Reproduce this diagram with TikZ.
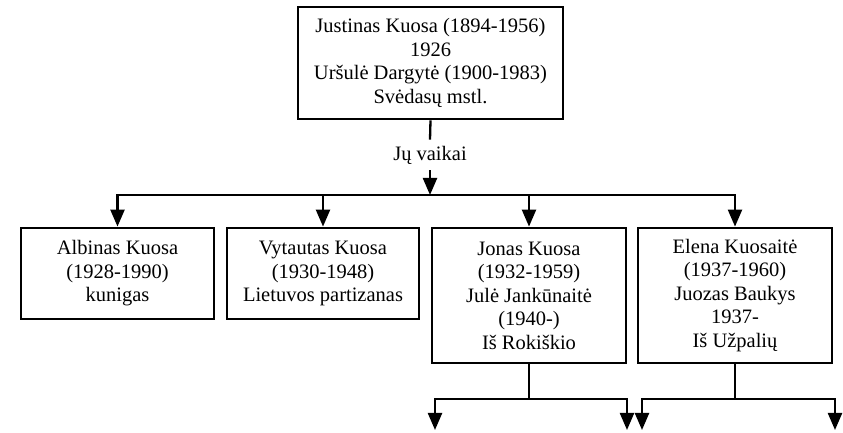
\documentclass[tikz,border=0pt]{standalone}
\usepackage{fontspec}
\setmainfont{Liberation Serif}
\usetikzlibrary{arrows.meta}

\begin{document}
\begin{tikzpicture}[x=1pt,y=1pt,
  person/.style={draw,line width=2.8pt,align=center,inner sep=2pt,
    font=\fontsize{20.5}{23.5}\selectfont},
  conn/.style={line width=2.3pt},
  arr/.style={conn,-{Triangle[width=14pt,length=17pt]}}]
\useasboundingbox (0,0) rectangle (843,433);
% Parents
\node[person,minimum width=265pt,minimum height=112pt] (parents) at (430.5,370)
  {Justinas Kuosa (1894-1956)\\1926\\Uršulė Dargytė (1900-1983)\\Svėdasų mstl.};
\node[font=\fontsize{20.5}{23.5}\selectfont,inner sep=6pt] (vaikai) at (430,278) {Jų vaikai};
% Children
\node[person,minimum width=193pt,minimum height=91pt] (albinas) at (117.5,159.5)
  {Albinas Kuosa\\(1928-1990)\\kunigas};
\node[person,minimum width=192pt,minimum height=91pt] (vytautas) at (323,159.5)
  {Vytautas Kuosa\\(1930-1948)\\Lietuvos partizanas};
\node[person,minimum width=194pt,minimum height=135pt] (jonas) at (529,137.5)
  {Jonas Kuosa\\(1932-1959)\\Julė Jankūnaitė\\(1940-)\\Iš Rokiškio};
\node[person,minimum width=194pt,minimum height=135pt] (elena) at (735,137.5)
  {Elena Kuosaitė\\(1937-1960)\\Juozas Baukys\\1937-\\Iš Užpalių};
% Bars
\coordinate (barL) at (117.5,238);
\coordinate (barR) at (735,238);
\coordinate (jonasL) at (435,34);
\coordinate (jonasR) at (627,34);
\coordinate (elenaL) at (642,34);
\coordinate (elenaR) at (835,34);
% Parents to children
\draw[conn] (parents.south) -- (vaikai.north);
\draw[arr] (vaikai.south) -- (vaikai.south |- barL);
\draw[conn,line cap=rect] (barL) -- (barR);
\foreach \c in {albinas,vytautas,jonas,elena}
  \draw[arr] (\c.north |- barL) -- (\c.north);
% Grandchildren
\draw[conn] (jonas.south) -- (jonas.south |- jonasL);
\draw[conn,line cap=rect] (jonasL) -- (jonasR);
\draw[conn] (elena.south) -- (elena.south |- elenaL);
\draw[conn,line cap=rect] (elenaL) -- (elenaR);
\foreach \g in {jonasL,jonasR,elenaL,elenaR}
  \draw[arr] (\g) -- ++(0,-31);
\end{tikzpicture}
\end{document}
